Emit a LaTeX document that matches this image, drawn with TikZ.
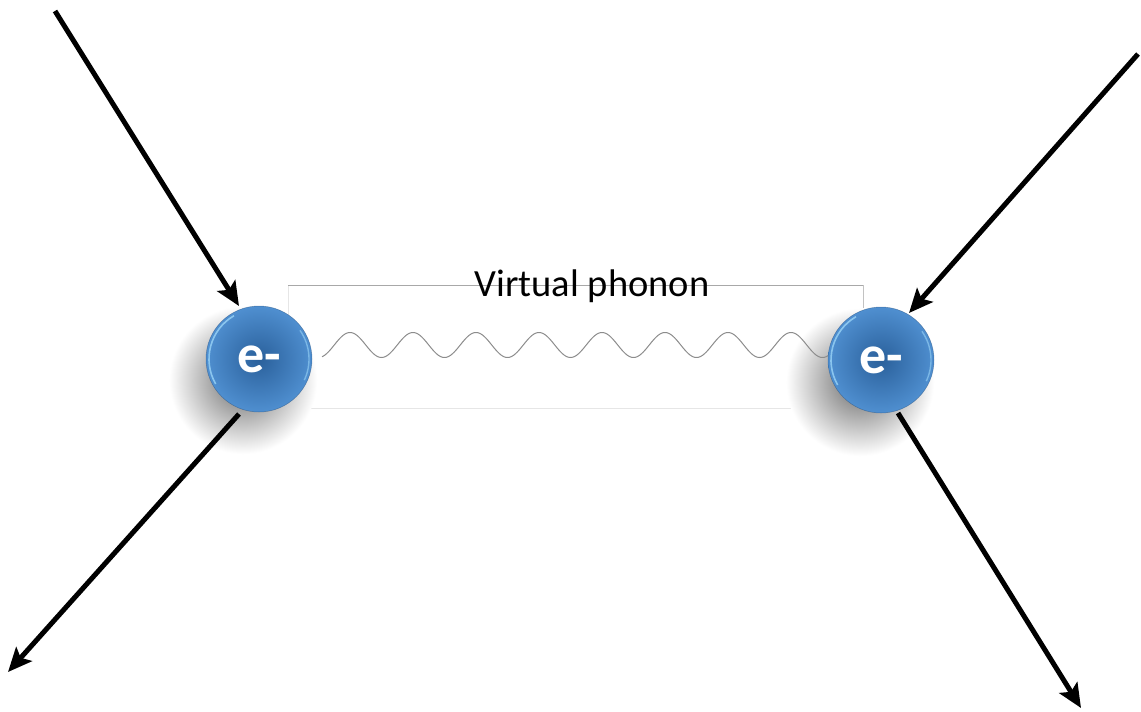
\documentclass[tikz,border=0pt]{standalone}
\usepackage{fontspec}
\setmainfont{Carlito}
\usetikzlibrary{arrows.meta}
\definecolor{ballcenter}{HTML}{2A609B}
\definecolor{ballrim}{HTML}{4F8FD0}
\definecolor{ballhl}{HTML}{9AD4F7}
\definecolor{boxline}{HTML}{A8A8A8}
\definecolor{boxlight}{HTML}{E6E6E6}
\definecolor{wavecol}{HTML}{8C8C8C}
\tikzset{
  arr/.style={line width=5pt, -{Stealth[length=24pt,width=21pt,inset=5pt]}},
  ball/.style={circle, minimum size=106pt, inner sep=0pt, text=white,
    font=\fontsize{54}{54}\selectfont\bfseries},
  shadowblob/.style={inner color=black!60, outer color=white},
  vplabel/.style={font=\fontsize{38.5}{38.5}\selectfont, text=black, inner sep=0pt}
}
\begin{document}
\begin{tikzpicture}[x=1pt,y=-1pt]
\useasboundingbox (0,0) rectangle (1141,712);
\fill[white] (0,0) rectangle (1141,712);
% box
\draw[boxlight, line width=0.8pt] (288,285) -- (288,408) -- (863,408);
\draw[boxline, line width=0.8pt] (288,285) -- (863,285);
\draw[boxline!70, line width=0.8pt] (863,285) -- (863,408);
% shadows
\shade[shadowblob] (243,380) circle (74);
\shade[shadowblob] (860,382) circle (74);
% balls
\node[ball] (L) at (259,359) {};
\node[ball] (R) at (881,360) {};
\foreach \b in {L,R}{
  \shade[inner color=ballcenter, outer color=ballrim] (\b.center) circle (53);
  \draw[ballhl, line width=1.6pt, opacity=0.8] (\b.center) ++(150:50) arc (150:240:50);
  \draw[ballhl, line width=1.4pt, opacity=0.6] (\b.center) ++(-35:50) arc (-35:25:50);
  \draw[ballcenter!80!black, line width=0.5pt, opacity=0.5] (\b.center) circle (53);
  \node[ball] at (\b.center) {e-};
}
% label
\node[vplabel, anchor=base] (vp) at (592,296) {Virtual phonon};
% wave
\coordinate (ws) at (322,357);
\coordinate (we) at (828,356);
\draw[wavecol, line width=1pt] plot[domain=322:828, samples=400]
  (\x, {345 - 12.5*cos(5.7143*(\x-350))});
% arrows
\coordinate (a1s) at (55,11);
\coordinate (a1e) at (239,306);
\coordinate (a2s) at (239,414);
\coordinate (a2e) at (8,672);
\coordinate (a3s) at (1138,54);
\coordinate (a3e) at (909,313);
\coordinate (a4s) at (898,413);
\coordinate (a4e) at (1081,708);
\draw[arr] (a1s) -- (a1e);
\draw[arr] (a2s) -- (a2e);
\draw[arr] (a3s) -- (a3e);
\draw[arr] (a4s) -- (a4e);
\end{tikzpicture}
\end{document}
